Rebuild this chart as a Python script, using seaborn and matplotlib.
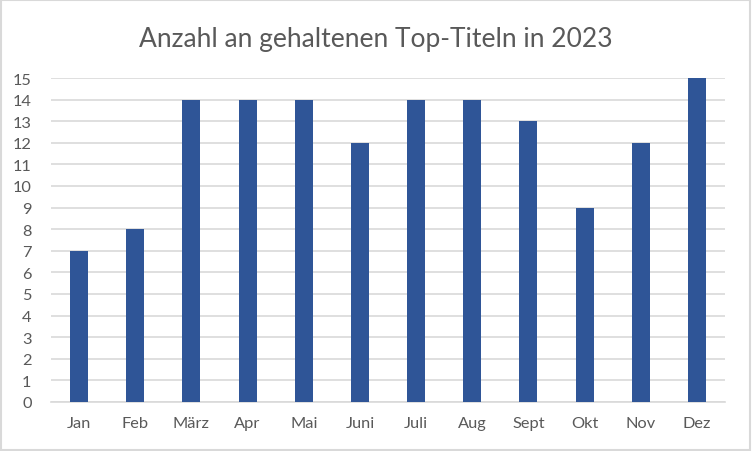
import matplotlib
matplotlib.use("Agg")
import matplotlib.pyplot as plt
import seaborn as sns
import pandas as pd

# chart data
months = ["Jan", "Feb", "März", "Apr", "Mai", "Juni", "Juli", "Aug", "Sept", "Okt", "Nov", "Dez"]
top_titles = [7, 8, 14, 14, 14, 12, 14, 14, 13, 9, 12, 15]
y_ticks = list(range(0, 16))

title = "Anzahl an gehaltenen Top-Titeln in 2023"
bar_color = "#2F5597"
text_color = "#595959"
grid_color = "#D9D9D9"

sns.set_style("white")
plt.rcParams["font.family"] = ["Lato", "DejaVu Sans"]

df = pd.DataFrame({"Monat": months, "Anzahl": top_titles})

fig = plt.figure(figsize=(7.52, 4.52), dpi=100)
ax = fig.add_axes([51 / 752, 1 - 403 / 452, 674 / 752, 324 / 452])

sns.barplot(data=df, x="Monat", y="Anzahl", color=bar_color, saturation=1,
            width=0.32, linewidth=0, ax=ax, zorder=3)

ax.set_xlim(-0.5, len(months) - 0.5)
ax.set_ylim(0, 15)
ax.set_yticks(y_ticks)
ax.yaxis.grid(True, color=grid_color, linewidth=1.2, zorder=0)
ax.set_axisbelow(True)

for side in ["top", "right", "left"]:
    ax.spines[side].set_visible(False)
ax.spines["bottom"].set_color(grid_color)
ax.spines["bottom"].set_linewidth(1.2)

ax.tick_params(axis="both", length=0, labelsize=11.8, colors=text_color)
ax.tick_params(axis="x", pad=10)
ax.tick_params(axis="y", pad=14)
ax.set_xlabel("")
ax.set_ylabel("")

fig.text(0.5, 1 - 40 / 452, title, ha="center", va="center",
         fontsize=19, color=text_color)

# light frame round the whole chart
fig.patches.append(plt.Rectangle((0.001, 0.002), 0.997, 0.996, transform=fig.transFigure,
                                 fill=False, edgecolor="#D9D9D9", linewidth=1.5))

fig.savefig("out.png", dpi=100, facecolor="white")
